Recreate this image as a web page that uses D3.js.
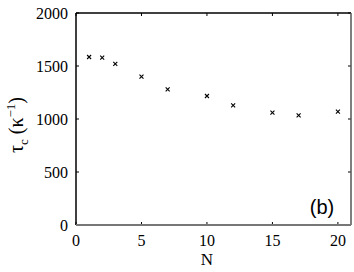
<!DOCTYPE html>
<html>
<head>
<meta charset="utf-8">
<style>
  body { margin: 0; background: #fff; }
</style>
</head>
<body>
<script src="https://cdn.jsdelivr.net/npm/d3@7"></script>
<script>
var width = 354, height = 272;
var margin = {left: 76, right: 3, top: 13, bottom: 47};
var serif = "'Liberation Serif', 'Times New Roman', 'DejaVu Serif', serif";

// data
var nValues = [1, 2, 3, 5, 7, 10, 12, 15, 17, 20];
var tauValues = [1585, 1578, 1519, 1399, 1280, 1217, 1129, 1060, 1035, 1069];
var xTicks = [0, 5, 10, 15, 20];
var yTicks = [0, 500, 1000, 1500, 2000];

var svg = d3.select("body").append("svg")
    .attr("width", width).attr("height", height);

var x = d3.scaleLinear().domain([0, 21]).range([margin.left, width - margin.right]);
var y = d3.scaleLinear().domain([0, 2000]).range([height - margin.bottom, margin.top]);

var x0 = x.range()[0], x1 = x.range()[1], y0 = y.range()[0], y1 = y.range()[1];

// ticks (inward, mirrored)
var tk = 3;
var g = svg.append("g").attr("stroke", "#000").attr("stroke-width", 1);
xTicks.forEach(function(t) {
  g.append("line").attr("x1", x(t)).attr("x2", x(t)).attr("y1", y0).attr("y2", y0 - tk);
  g.append("line").attr("x1", x(t)).attr("x2", x(t)).attr("y1", y1).attr("y2", y1 + tk);
});
yTicks.forEach(function(t) {
  g.append("line").attr("x1", x0).attr("x2", x0 + tk).attr("y1", y(t)).attr("y2", y(t));
  g.append("line").attr("x1", x1).attr("x2", x1 - tk).attr("y1", y(t)).attr("y2", y(t));
});

// frame
svg.append("line").attr("x1", x0).attr("x2", x1).attr("y1", y1).attr("y2", y1)
   .attr("stroke", "#000").attr("stroke-width", 1.5);
svg.append("line").attr("x1", x0).attr("x2", x0).attr("y1", y1).attr("y2", y0)
   .attr("stroke", "#000").attr("stroke-width", 1.5);
svg.append("line").attr("x1", x1).attr("x2", x1).attr("y1", y1).attr("y2", y0)
   .attr("stroke", "#555").attr("stroke-width", 1.5);
svg.append("line").attr("x1", x0).attr("x2", x1).attr("y1", y0).attr("y2", y0)
   .attr("stroke", "#777").attr("stroke-width", 2);

// tick labels
svg.selectAll(".xl").data(xTicks).enter().append("text")
   .attr("font-family", serif)
   .attr("x", function(d) { return x(d); }).attr("y", 245.5)
   .attr("text-anchor", "middle").attr("font-size", 16).text(function(d) { return d; });
svg.selectAll(".yl").data(yTicks).enter().append("text")
   .attr("font-family", serif)
   .attr("x", 68).attr("y", function(d) { return y(d) + 5.5; })
   .attr("text-anchor", "end").attr("font-size", 16).text(function(d) { return d; });

// axis labels
svg.append("text").attr("font-family", serif)
   .attr("x", x(10)).attr("y", 265).attr("text-anchor", "middle")
   .attr("font-size", 17).text("N");
var yl = svg.append("text").attr("font-family", serif)
   .attr("transform", "translate(23,125) rotate(-90)")
   .attr("text-anchor", "middle").attr("font-size", 20);
yl.append("tspan").text("τ");
yl.append("tspan").attr("font-size", 13).attr("dy", 5).text("c");
yl.append("tspan").attr("dy", -5).text(" (κ");
yl.append("tspan").attr("font-size", 13).attr("dy", -8).text("−1");
yl.append("tspan").attr("dy", 8).text(")");

// markers
var s = 2;
svg.selectAll(".pt").data(nValues).enter().append("path")
   .attr("d", function(d, i) {
     var cx = x(d), cy = y(tauValues[i]);
     return "M" + (cx - s) + "," + (cy - s) + "L" + (cx + s) + "," + (cy + s) +
            "M" + (cx - s) + "," + (cy + s) + "L" + (cx + s) + "," + (cy - s);
   })
   .attr("stroke", "#000").attr("stroke-width", 1.1).attr("fill", "none");

// panel label
svg.append("text").attr("x", 322).attr("y", 214).attr("text-anchor", "middle")
   .attr("font-family", "'Liberation Sans', Arial, sans-serif")
   .attr("font-size", 20).text("(b)");
</script>
</body>
</html>
